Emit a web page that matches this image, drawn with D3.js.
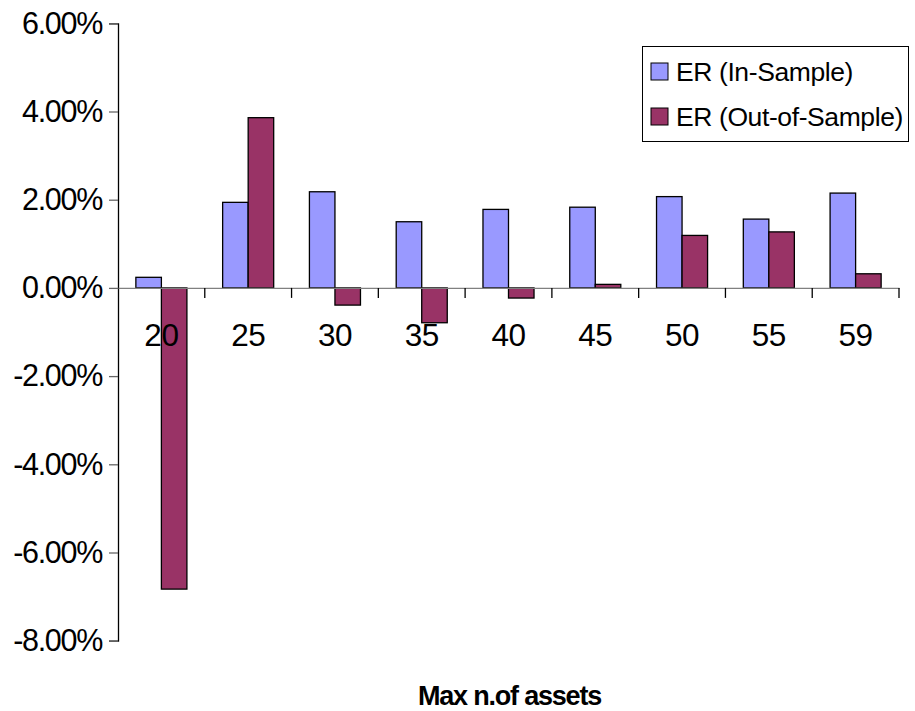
<!DOCTYPE html>
<html>
<head>
<meta charset="utf-8">
<script src="https://cdn.jsdelivr.net/npm/d3@7"></script>
<style>
  html, body { margin: 0; padding: 0; background: #fff; }
  svg { display: block; font-family: "Liberation Sans", Arial, sans-serif; }
</style>
</head>
<body>
<svg id="chart" width="915" height="711"></svg>
<script>
// Maximum number of assets in the portfolio
const categories = ["20", "25", "30", "35", "40", "45", "50", "55", "59"];
// Excess return, in-sample and out-of-sample
const inSample  = [0.0024, 0.0194, 0.0218, 0.0150, 0.0178, 0.0183, 0.0207, 0.0156, 0.0215];
const outSample = [-0.0683, 0.0386, -0.0039, -0.0079, -0.0023, 0.0008, 0.0119, 0.0127, 0.0032];
const seriesNames = ["ER (In-Sample)", "ER (Out-of-Sample)"];
const seriesColors = ["#9999FF", "#993366"];
const yTicks = [-0.08, -0.06, -0.04, -0.02, 0, 0.02, 0.04, 0.06];
const xTitle = "Max n.of assets";

const svg = d3.select("#chart");
const plotLeft = 118, plotRight = 899, plotTop = 23.3, plotBottom = 640.7;

const x = d3.scaleBand().domain(categories).range([plotLeft, plotRight]).padding(0);
const xs = d3.scaleBand().domain([0, 1]).range([0, x.bandwidth()])
  .paddingInner(0).paddingOuter(0.70);
const y = d3.scaleLinear().domain([-0.08, 0.06]).range([plotBottom, plotTop]);

const fmt = v => d3.format(".2%")(v).replace("\u2212", "-");

// Y axis
const yAxis = svg.append("g").attr("transform", `translate(${plotLeft},0)`)
  .call(d3.axisLeft(y).tickValues(yTicks).tickFormat(fmt).tickSize(9).tickPadding(7));
yAxis.select(".domain").attr("stroke", "#000").attr("stroke-width", 1.3);
yAxis.selectAll(".tick line").attr("stroke", "#666").attr("stroke-width", 1.3);
yAxis.selectAll(".tick text")
  .attr("font-size", 30.5).attr("letter-spacing", -1.3).attr("fill", "#000")
  .attr("font-family", "'Liberation Sans', Arial, sans-serif");

// Bars
const rows = categories.map((c, i) => ({ c, vals: [inSample[i], outSample[i]] }));
const groups = svg.append("g").selectAll("g").data(rows).join("g")
  .attr("transform", d => `translate(${x(d.c)},0)`);
groups.selectAll("rect").data(d => d.vals.map((v, k) => ({ v, k }))).join("rect")
  .attr("x", d => xs(d.k))
  .attr("width", xs.bandwidth())
  .attr("y", d => y(Math.max(0, d.v)))
  .attr("height", d => Math.abs(y(d.v) - y(0)))
  .attr("fill", d => seriesColors[d.k])
  .attr("stroke", "#000").attr("stroke-width", 1.3);

// Category axis on the zero line
const xAxis = svg.append("g").attr("transform", `translate(0,${y(0)})`)
  .call(d3.axisBottom(x).tickSize(0).tickPadding(36).tickSizeOuter(0));
xAxis.select(".domain").attr("stroke", "#808080").attr("stroke-width", 1.3);
xAxis.selectAll(".tick text")
  .attr("font-size", 31.5).attr("letter-spacing", -0.5).attr("fill", "#000")
  .attr("font-family", "'Liberation Sans', Arial, sans-serif");
// tick marks between categories
const boundaries = categories.map(c => x(c) + x.bandwidth());
xAxis.selectAll(".sep").data(boundaries).join("line")
  .attr("class", "sep")
  .attr("x1", d => d).attr("x2", d => d)
  .attr("y1", 0).attr("y2", 10)
  .attr("stroke", "#000").attr("stroke-width", 1.3);

// Axis title
svg.append("text")
  .attr("x", (plotLeft + plotRight) / 2 + 1).attr("y", 705)
  .attr("text-anchor", "middle")
  .attr("font-size", 27).attr("font-weight", "bold").attr("letter-spacing", -1.2)
  .text(xTitle);

// Legend
const lg = svg.append("g");
lg.append("rect").attr("x", 642.5).attr("y", 46.5).attr("width", 266).attr("height", 95)
  .attr("fill", "#fff").attr("stroke", "#000").attr("stroke-width", 1);
const items = lg.selectAll(".item").data(seriesNames).join("g")
  .attr("class", "item")
  .attr("transform", (d, i) => `translate(651,${63 + i * 45})`);
items.append("rect").attr("width", 17).attr("height", 17)
  .attr("fill", (d, i) => seriesColors[i]).attr("stroke", "#000").attr("stroke-width", 1);
items.append("text").attr("x", 25).attr("y", 17.5)
  .attr("font-size", 26.5).attr("letter-spacing", -0.4)
  .text(d => d);
</script>
</body>
</html>
